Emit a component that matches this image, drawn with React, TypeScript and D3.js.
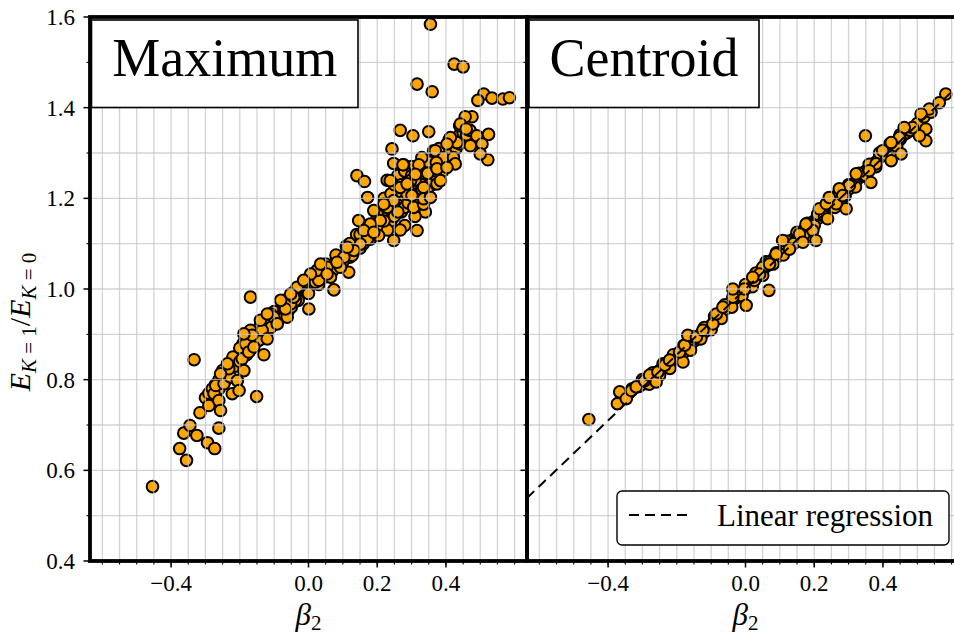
import React from "react";
import * as d3 from "d3";

// ---------- data ----------
const maximumPoints: [number, number][] = [
  [-0.454, 0.564], [-0.375, 0.648], [-0.355, 0.622], [-0.363, 0.682], [-0.345, 0.699], [-0.325, 0.677],
  [-0.294, 0.661], [-0.273, 0.648], [-0.261, 0.693], [-0.333, 0.844], [-0.169, 0.982], [-0.151, 0.763],
  [0.001, 0.956], [-0.316, 0.727], [-0.29, 0.743], [-0.275, 0.769], [-0.261, 0.754], [-0.256, 0.732],
  [-0.27, 0.787], [-0.246, 0.791], [-0.222, 0.769], [-0.227, 0.806], [-0.232, 0.824], [-0.188, 0.82],
  [-0.193, 0.846], [-0.183, 0.879], [-0.13, 0.855], [-0.144, 0.887], [-0.169, 0.909], [-0.135, 0.909],
  [-0.12, 0.89], [-0.14, 0.931], [-0.101, 0.938], [-0.072, 0.956], [-0.038, 0.975], [-0.033, 1.0],
  [0.02, 1.015], [0.045, 1.026], [-0.207, 0.798], [-0.202, 0.776], [-0.256, 0.813], [-0.236, 0.835],
  [-0.174, 0.861], [-0.159, 0.872], [-0.091, 0.923], [-0.062, 0.938], [-0.052, 0.967], [-0.164, 0.898],
  [-0.188, 0.901],
  [0.074, 0.998], [0.117, 1.037], [0.127, 1.074], [0.141, 1.25], [0.163, 1.237], [0.172, 1.202],
  [0.146, 1.151], [0.243, 1.309], [0.248, 1.277], [0.277, 1.274], [0.321, 1.274], [0.364, 1.305],
  [0.316, 1.129], [0.267, 1.13], [0.204, 1.118], [0.248, 1.107], [0.171, 1.11], [0.093, 1.048],
  [0.064, 1.026], [0.03, 1.019], [0.025, 1.041], [0.054, 1.048], [-0.033, 1.004], [-0.043, 0.982],
  [-0.067, 0.956], [0.229, 1.18], [0.248, 1.195], [0.287, 1.209], [0.306, 1.18], [0.335, 1.187],
  [0.345, 1.217], [0.34, 1.254], [0.369, 1.261], [0.374, 1.232], [0.229, 1.24], [0.267, 1.224],
  [0.297, 1.239], [0.19, 1.173], [0.209, 1.151], [0.18, 1.143], [0.161, 1.129], [0.19, 1.125],
  [0.151, 1.099], [0.132, 1.085], [0.103, 1.07], [0.083, 1.059], [0.113, 1.092], [0.054, 1.033],
  [0.035, 1.055], [0.006, 1.033], [-0.014, 1.019], [-0.052, 0.989], [-0.081, 0.975], [-0.12, 0.945],
  [0.355, 1.584], [0.424, 1.496], [0.45, 1.49], [0.316, 1.452], [0.36, 1.435], [0.51, 1.43],
  [0.493, 1.416], [0.534, 1.421], [0.566, 1.419], [0.585, 1.422], [0.476, 1.38], [0.456, 1.38],
  [0.442, 1.364], [0.459, 1.353], [0.432, 1.323], [0.413, 1.334], [0.403, 1.32], [0.49, 1.338],
  [0.524, 1.341], [0.505, 1.32], [0.522, 1.285], [0.471, 1.316], [0.267, 1.35], [0.304, 1.338],
  [0.35, 1.347], [0.369, 1.305], [0.393, 1.29], [0.422, 1.29], [0.427, 1.276], [0.275, 1.274],
  [0.372, 1.279], [0.311, 1.253], [0.347, 1.255], [0.374, 1.265], [0.238, 1.239], [0.287, 1.232],
  [0.335, 1.224], [0.301, 1.206], [0.219, 1.187], [0.335, 1.199], [0.355, 1.202], [0.384, 1.239],
  [0.403, 1.268], [0.5, 1.298],
];

const maximumBand: [number, number][] = [
  [-0.3, 0.76], [-0.29, 0.77], [-0.28, 0.78], [-0.27, 0.79], [-0.26, 0.8], [-0.25, 0.805], [-0.24, 0.815],
  [-0.23, 0.825], [-0.22, 0.835], [-0.21, 0.845], [-0.2, 0.855], [-0.19, 0.865], [-0.18, 0.87], [-0.17, 0.88],
  [-0.16, 0.89], [-0.15, 0.9], [-0.14, 0.905], [-0.13, 0.915], [-0.12, 0.92], [-0.11, 0.93], [-0.1, 0.935],
  [-0.09, 0.945], [-0.08, 0.95], [-0.07, 0.96], [-0.06, 0.965], [-0.05, 0.975], [-0.04, 0.98], [-0.03, 0.99],
  [-0.02, 0.995], [-0.01, 1.0], [0, 1.005], [0.01, 1.01], [0.02, 1.02], [0.03, 1.025], [0.04, 1.03],
  [0.05, 1.04], [0.06, 1.045], [0.07, 1.05], [0.08, 1.06], [0.09, 1.065], [0.1, 1.07], [0.11, 1.075],
  [0.12, 1.085], [0.13, 1.09], [0.14, 1.1], [0.15, 1.105], [0.16, 1.115], [0.17, 1.12], [0.18, 1.13],
  [0.19, 1.14], [0.2, 1.145], [0.21, 1.155], [0.22, 1.16], [0.23, 1.17], [0.24, 1.175], [0.25, 1.185],
  [0.26, 1.19], [0.27, 1.2], [0.28, 1.205], [0.29, 1.21], [0.3, 1.22], [0.31, 1.225], [0.32, 1.23],
  [0.33, 1.24], [0.34, 1.245], [0.35, 1.25], [0.36, 1.26], [0.37, 1.27], [0.38, 1.28], [0.39, 1.29],
  [0.4, 1.3], [0.41, 1.31], [0.42, 1.32], [0.43, 1.33], [0.44, 1.34], [0.45, 1.345],
  [-0.27, 0.77], [-0.24, 0.8], [-0.21, 0.83], [-0.18, 0.855], [-0.15, 0.885], [-0.12, 0.905], [-0.09, 0.93],
  [-0.06, 0.95], [-0.03, 0.975], [0.0, 0.99], [0.03, 1.01], [0.06, 1.03], [0.09, 1.05], [0.12, 1.07],
  [0.15, 1.09], [0.18, 1.11], [0.21, 1.13], [0.24, 1.15], [0.27, 1.17], [0.3, 1.19], [0.33, 1.21],
  [0.36, 1.23], [0.39, 1.26], [0.42, 1.29], [-0.25, 0.82], [-0.22, 0.85], [-0.19, 0.88], [-0.16, 0.905],
  [-0.13, 0.93], [-0.1, 0.95], [-0.07, 0.975], [-0.04, 0.995], [-0.01, 1.015], [0.02, 1.035], [0.05, 1.055],
  [0.08, 1.075], [0.11, 1.095], [0.14, 1.12], [0.17, 1.14], [0.2, 1.165], [0.23, 1.19], [0.26, 1.215],
  [0.29, 1.24], [0.32, 1.26], [0.35, 1.28], [0.38, 1.31], [0.41, 1.33], [0.44, 1.36], [0.22, 1.2],
  [0.25, 1.16], [0.28, 1.18], [0.31, 1.2], [0.34, 1.17], [0.26, 1.25], [0.3, 1.27], [0.33, 1.29],
  [0.24, 1.21], [0.25, 1.23], [0.27, 1.23], [0.28, 1.26], [0.3, 1.25], [0.31, 1.24], [0.32, 1.21],
  [0.33, 1.22], [0.34, 1.2], [0.36, 1.24], [0.37, 1.25], [0.38, 1.27], [0.39, 1.28], [0.4, 1.29],
  [0.41, 1.3], [0.43, 1.31], [0.44, 1.32], [0.46, 1.34], [0.47, 1.35], [0.26, 1.17], [0.29, 1.19],
  [0.31, 1.16], [0.28, 1.14], [0.23, 1.13], [0.22, 1.15], [0.19, 1.12], [0.17, 1.13], [0.16, 1.1],
  [0.13, 1.08], [0.1, 1.06], [0.07, 1.04], [0.12, 1.1], [0.15, 1.12],
  [-0.26, 0.78], [-0.23, 0.81], [-0.2, 0.84], [-0.17, 0.865], [-0.14, 0.89], [-0.11, 0.915],
  [-0.08, 0.94], [-0.05, 0.96], [-0.2, 0.87], [-0.17, 0.895], [-0.14, 0.92], [-0.11, 0.945],
];

const centroidPoints: [number, number][] = [
  [-0.456, 0.712], [-0.373, 0.747], [-0.366, 0.773], [-0.347, 0.758], [-0.332, 0.776], [-0.318, 0.784],
  [-0.294, 0.798], [-0.279, 0.81], [-0.26, 0.795], [-0.255, 0.817], [-0.235, 0.832], [-0.221, 0.843],
  [-0.182, 0.839], [-0.192, 0.861], [-0.177, 0.876], [-0.168, 0.898], [-0.143, 0.894], [-0.124, 0.909],
  [-0.095, 0.923], [-0.085, 0.945], [-0.066, 0.96], [-0.037, 0.982], [-0.037, 1.0], [-0.003, 1.0],
  [0.002, 0.964], [0.026, 1.019], [0.05, 1.048], [0.068, 0.997], [0.068, 1.059],
  [0.349, 1.338], [0.583, 1.43], [0.564, 1.411], [0.535, 1.397], [0.511, 1.386], [0.525, 1.353],
  [0.525, 1.327], [0.506, 1.338], [0.486, 1.356], [0.462, 1.356], [0.448, 1.334], [0.424, 1.323],
  [0.453, 1.298], [0.424, 1.283], [0.399, 1.305], [0.38, 1.276], [0.36, 1.261], [0.365, 1.235],
  [0.322, 1.254], [0.302, 1.228], [0.273, 1.221], [0.293, 1.177], [0.264, 1.188], [0.239, 1.155],
  [0.215, 1.177], [0.196, 1.129], [0.176, 1.143], [0.157, 1.121], [0.128, 1.088], [0.108, 1.107],
  [0.089, 1.077], [0.07, 1.055], [0.041, 1.033], [0.021, 1.026], [0.167, 1.103], [0.205, 1.107],
  [0.235, 1.188], [0.244, 1.202], [0.283, 1.206],
];

const centroidBand: [number, number][] = [
  [-0.36, 0.76], [-0.34, 0.77], [-0.33, 0.78], [-0.31, 0.785], [-0.3, 0.79], [-0.29, 0.8], [-0.28, 0.8],
  [-0.27, 0.805], [-0.26, 0.815], [-0.25, 0.82], [-0.24, 0.825], [-0.23, 0.83], [-0.22, 0.835], [-0.21, 0.845],
  [-0.2, 0.85], [-0.19, 0.855], [-0.18, 0.86], [-0.17, 0.87], [-0.16, 0.875], [-0.15, 0.885], [-0.14, 0.89],
  [-0.13, 0.9], [-0.12, 0.905], [-0.11, 0.915], [-0.1, 0.92], [-0.09, 0.93], [-0.08, 0.94], [-0.07, 0.945],
  [-0.06, 0.955], [-0.05, 0.965], [-0.04, 0.97], [-0.03, 0.98], [-0.02, 0.985], [-0.01, 0.995], [0, 1.0],
  [0.01, 1.01], [0.02, 1.015], [0.03, 1.025], [0.04, 1.03], [0.05, 1.04], [0.06, 1.05], [0.07, 1.055],
  [0.08, 1.065], [0.09, 1.07], [0.1, 1.08], [0.11, 1.085], [0.12, 1.095], [0.13, 1.1], [0.14, 1.11],
  [0.15, 1.115], [0.16, 1.12], [0.17, 1.13], [0.18, 1.135], [0.19, 1.145], [0.2, 1.15], [0.21, 1.155],
  [0.22, 1.165], [0.23, 1.17], [0.24, 1.18], [0.25, 1.185], [0.26, 1.19], [0.27, 1.2], [0.28, 1.205],
  [0.29, 1.215], [0.3, 1.22], [0.31, 1.23], [0.32, 1.235], [0.33, 1.245], [0.34, 1.25], [0.35, 1.26],
  [0.36, 1.265], [0.37, 1.275], [0.38, 1.28], [0.39, 1.29], [0.4, 1.295], [0.41, 1.305], [0.42, 1.31],
  [0.43, 1.32], [0.44, 1.325], [0.45, 1.33], [0.46, 1.34], [0.47, 1.345], [0.48, 1.35], [0.5, 1.365],
  [0.52, 1.38], [0.54, 1.39],
  [-0.3, 0.8], [-0.27, 0.815], [-0.24, 0.835], [-0.21, 0.855], [-0.18, 0.875], [-0.15, 0.895], [-0.12, 0.915],
  [-0.09, 0.94], [-0.06, 0.965], [-0.03, 0.99], [0.0, 1.01], [0.03, 1.035], [0.06, 1.06], [0.09, 1.08],
  [0.12, 1.105], [0.15, 1.125], [0.18, 1.145], [0.21, 1.165], [0.24, 1.19], [0.27, 1.21], [0.3, 1.23],
  [0.33, 1.255], [0.36, 1.275], [0.39, 1.3], [0.42, 1.32], [0.45, 1.34], [-0.28, 0.79], [-0.25, 0.81],
  [-0.22, 0.825], [-0.19, 0.845], [-0.16, 0.865], [-0.13, 0.89], [-0.1, 0.91], [-0.07, 0.935], [-0.04, 0.96],
  [-0.01, 0.985], [0.02, 1.005], [0.05, 1.03], [0.08, 1.055], [0.11, 1.075], [0.14, 1.1], [0.17, 1.12],
  [0.2, 1.14], [0.23, 1.16], [0.26, 1.18], [0.29, 1.205], [0.32, 1.225], [0.35, 1.25], [0.38, 1.27],
  [0.41, 1.295], [0.44, 1.315],
];

const regressionSlope = 0.725;
const regressionIntercept = 1.0;

const xDomain: [number, number] = [-0.636, 0.636];
const yDomain: [number, number] = [0.4, 1.6];
const yMajorTicks = [0.4, 0.6, 0.8, 1.0, 1.2, 1.4, 1.6];
const yMinorTicks = [0.5, 0.7, 0.9, 1.1, 1.3, 1.5];
const yTickLabels = ["0.4", "0.6", "0.8", "1.0", "1.2", "1.4", "1.6"];
const xMajorTicks = [-0.4, 0.0, 0.2, 0.4];
const xTickLabels = ["\u22120.4", "0.0", "0.2", "0.4"];
const xMinorTicks = d3.range(-12, 13).map((i) => i * 0.05);
const yGrid = d3.range(4, 17).map((i) => i / 10);

const FONT = "Liberation Serif, Times New Roman, Times, DejaVu Serif, serif";
const TOP = 17;
const BOTTOM = 561;
const txt = { fontFamily: FONT };

type PanelProps = {
  x0: number;
  x1: number;
  points: [number, number][];
  title: string;
  titleBox: [number, number];
  yLabels: boolean;
  regression: boolean;
  id: string;
};

function Panel({ x0, x1, points, title, titleBox, yLabels, regression, id }: PanelProps) {
  const x = d3.scaleLinear().domain(xDomain).range([x0, x1]);
  const y = d3.scaleLinear().domain(yDomain).range([BOTTOM, TOP]);
  const line = d3
    .line<number>()
    .x((b) => x(b))
    .y((b) => y(regressionIntercept + regressionSlope * b));
  const cx = (x0 + x1) / 2;
  return (
    <g>
      <defs>
        <clipPath id={id}>
          <rect x={x0} y={TOP} width={x1 - x0} height={BOTTOM - TOP} />
        </clipPath>
      </defs>
      <g clipPath={`url(#${id})`}>
        {points.map((p, i) => (
          <circle key={i} cx={x(p[0])} cy={y(p[1])} r={5.8} fill="#FFA500" stroke="#000" strokeWidth={2} />
        ))}
        {xMinorTicks.map((t, i) => (
          <line key={"gx" + i} x1={x(t)} x2={x(t)} y1={TOP} y2={BOTTOM} stroke="#c4c4c4" strokeOpacity={0.75} strokeWidth={1.3} />
        ))}
        {yGrid.map((t, i) => (
          <line key={"gy" + i} x1={x0} x2={x1} y1={y(t)} y2={y(t)} stroke="#c4c4c4" strokeOpacity={0.75} strokeWidth={1.3} />
        ))}
        {regression && (
          <path d={line(xDomain) || ""} fill="none" stroke="#000" strokeWidth={2} strokeDasharray="10,6" />
        )}
      </g>
      {yMajorTicks.map((t, i) => (
        <line key={"ym" + i} x1={x0 - 6.5} x2={x0} y1={y(t)} y2={y(t)} stroke="#000" strokeWidth={1.5} />
      ))}
      {yMinorTicks.map((t, i) => (
        <line key={"yn" + i} x1={x0 - 3.5} x2={x0} y1={y(t)} y2={y(t)} stroke="#000" strokeWidth={1.1} />
      ))}
      {xMajorTicks.map((t, i) => (
        <line key={"xm" + i} x1={x(t)} x2={x(t)} y1={BOTTOM} y2={BOTTOM + 6.5} stroke="#000" strokeWidth={1.5} />
      ))}
      {xMinorTicks.filter((t) => x(t) > x0 + 1 && x(t) < x1 - 1).map((t, i) => (
        <line key={"xn" + i} x1={x(t)} x2={x(t)} y1={BOTTOM} y2={BOTTOM + 3.5} stroke="#000" strokeWidth={1.1} />
      ))}
      {yLabels &&
        yMajorTicks.map((t, i) => (
          <text key={"yl" + i} x={x0 - 15} y={y(t) + 8} textAnchor="end" style={txt} fontSize={23} fill="#000">
            {yTickLabels[i]}
          </text>
        ))}
      {xMajorTicks.map((t, i) => (
        <text key={"xl" + i} x={x(t)} y={591} textAnchor="middle" style={txt} fontSize={23} fill="#000">
          {xTickLabels[i]}
        </text>
      ))}
      <rect x={x0} y={TOP} width={x1 - x0} height={BOTTOM - TOP} fill="none" stroke="#000" strokeWidth={3.8} />
      <rect x={titleBox[0]} y={20} width={titleBox[1] - titleBox[0]} height={87.5} fill="#fff" stroke="#000" strokeWidth={1.6} />
      <text x={(titleBox[0] + titleBox[1]) / 2} y={76} textAnchor="middle" style={txt} fontSize={54} fill="#000">
        {title}
      </text>
      <text x={cx} y={625} textAnchor="middle" style={txt} fontSize={31} fill="#000">
        <tspan fontStyle="italic">β</tspan>
        <tspan fontSize={21} dy={5}>2</tspan>
      </text>
    </g>
  );
}

export default function App() {
  const maxAll = [...maximumBand, ...maximumPoints];
  const cenAll = [...centroidBand, ...centroidPoints];
  return (
    <svg
      width={954}
      height={635}
      viewBox="0 0 954 635"
      style={{ position: "fixed", left: 0, top: 0, background: "#fff" }}
    >
      <rect x={0} y={0} width={954} height={635} fill="#fff" />
      <Panel x0={90} x1={527} points={maxAll} title="Maximum" titleBox={[91.5, 358]} yLabels={true} regression={false} id="clipL" />
      <Panel x0={527} x1={964} points={cenAll} title="Centroid" titleBox={[529, 759]} yLabels={false} regression={true} id="clipR" />
      <text transform="translate(30,322) rotate(-90)" textAnchor="middle" style={txt} fontSize={30} fill="#000">
        <tspan fontStyle="italic">E</tspan>
        <tspan fontSize={21} dy={6}>
          <tspan fontStyle="italic">K</tspan> = 1
        </tspan>
        <tspan dy={-6}>/</tspan>
        <tspan fontStyle="italic">E</tspan>
        <tspan fontSize={21} dy={6}>
          <tspan fontStyle="italic">K</tspan> = 0
        </tspan>
      </text>
      <g>
        <rect x={617} y={491} width={332} height={54} rx={5} ry={5} fill="#fff" stroke="#000" strokeWidth={1.4} />
        <line x1={629} x2={692} y1={515} y2={515} stroke="#000" strokeWidth={2} strokeDasharray="10,6" />
        <text x={717} y={526} style={txt} fontSize={31} fill="#000">
          Linear regression
        </text>
      </g>
    </svg>
  );
}
